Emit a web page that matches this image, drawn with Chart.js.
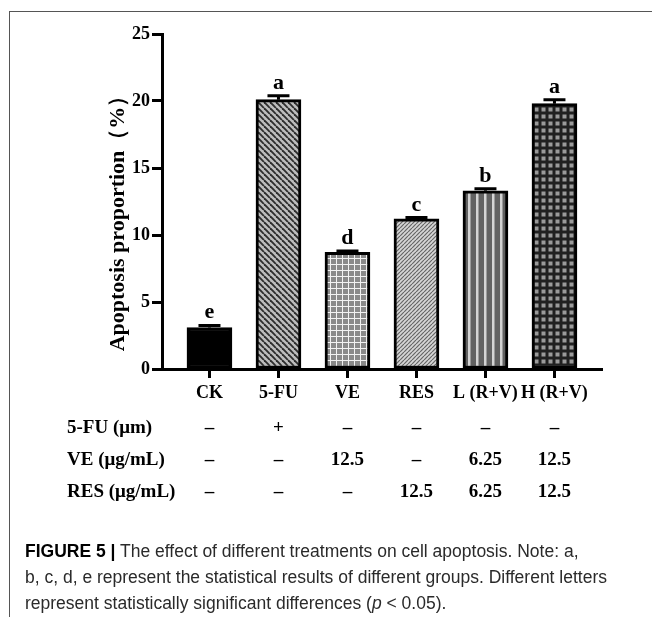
<!DOCTYPE html>
<html><head><meta charset="utf-8">
<script src="https://cdn.jsdelivr.net/npm/chart.js@4"></script>
<style>
html,body{margin:0;padding:0;background:#fff;}
#wrap{position:relative;width:652px;height:617px;overflow:hidden;background:#fff;}
#frame{position:absolute;left:9px;top:11px;right:-2px;bottom:-2px;border-top:1px solid #555;border-left:1px solid #555;}
canvas{position:absolute;left:0;top:0;}
.cell{position:absolute;font:bold 19px "Liberation Serif",serif;line-height:24px;white-space:nowrap;color:#000;}
#caption{position:absolute;left:25px;top:538px;font:17.5px "Liberation Sans",Arial,sans-serif;line-height:26px;color:#2a2a2a;white-space:nowrap;}
#caption b{font-weight:bold;color:#000;}
</style></head><body>
<div id="wrap">
<div id="frame"></div>
<canvas id="c" width="652" height="617"></canvas>
<div id="table"></div>
<div id="caption">
<div><b>FIGURE 5 |</b> The effect of different treatments on cell apoptosis. Note: a,</div>
<div>b, c, d, e represent the statistical results of different groups. Different letters</div>
<div>represent statistically significant differences (<i>p</i> &lt; 0.05).</div>
</div>
</div>
<script>
const categories = ['CK', '5-FU', 'VE', 'RES', 'L (R+V)', 'H (R+V)'];
const apoptosis = [3.1, 20.1, 8.7, 11.2, 13.3, 19.8];
const errors = [0.15, 0.3, 0.1, 0.1, 0.15, 0.3];
const groupLetters = ['e', 'a', 'd', 'c', 'b', 'a'];
const yTicks = [0, 5, 10, 15, 20, 25];
const yTitle = 'Apoptosis proportion（%）';
const tableRowLabels = ['5-FU (μm)', 'VE (μg/mL)', 'RES (μg/mL)'];
const row5FU = ['–', '+', '–', '–', '–', '–'];
const rowVE = ['–', '–', '12.5', '–', '6.25', '12.5'];
const rowRES = ['–', '–', '–', '12.5', '6.25', '12.5'];

const ctx = document.getElementById('c').getContext('2d');

function makePattern(w, h, draw) {
  const c = document.createElement('canvas');
  c.width = w; c.height = h;
  const g = c.getContext('2d');
  draw(g, w, h);
  return ctx.createPattern(c, 'repeat');
}
const patterns = [
  '#000000',
  makePattern(6, 6, (g, w, h) => {
    g.fillStyle = '#bdbdbd'; g.fillRect(0, 0, w, h);
    g.strokeStyle = '#2e2e2e'; g.lineWidth = 1.9;
    for (const k of [-6, 0, 6]) { g.beginPath(); g.moveTo(k, 0); g.lineTo(k + 6, 6); g.stroke(); }
  }),
  makePattern(6, 6, (g, w, h) => {
    g.fillStyle = '#8a8a8a'; g.fillRect(0, 0, w, h);
    g.fillStyle = '#f2f2f2'; g.fillRect(0, 0, w, 1); g.fillRect(0, 0, 1, h);
  }),
  makePattern(4, 4, (g, w, h) => {
    g.fillStyle = '#d6d6d6'; g.fillRect(0, 0, w, h);
    g.strokeStyle = '#666'; g.lineWidth = 1.2;
    for (const k of [-4, 0, 4]) { g.beginPath(); g.moveTo(k, 4); g.lineTo(k + 4, 0); g.stroke(); }
  }),
  makePattern(8, 2, (g, w, h) => {
    g.fillStyle = '#626262'; g.fillRect(0, 0, w, h);
    g.fillStyle = '#d4d4d4'; g.fillRect(4, 0, 2.5, h);
  }),
  makePattern(7, 7, (g, w, h) => {
    g.fillStyle = '#202020'; g.fillRect(0, 0, w, h);
    g.fillStyle = '#9a9a9a'; g.fillRect(2.5, 2.5, 4, 4);
  })
];

const annotate = {
  id: 'annotate',
  afterDatasetsDraw(chart) {
    const c = chart.ctx, xs = chart.scales.x, ys = chart.scales.y;
    c.save();
    c.strokeStyle = '#000'; c.lineWidth = 3; c.fillStyle = '#000';
    c.font = 'bold 22px "Liberation Serif", serif';
    c.textAlign = 'center'; c.textBaseline = 'alphabetic';
    apoptosis.forEach((v, i) => {
      const px = xs.getPixelForValue(i);
      const y0 = ys.getPixelForValue(v);
      const y1 = ys.getPixelForValue(v + errors[i]);
      c.beginPath();
      c.moveTo(px, y0); c.lineTo(px, y1);
      c.moveTo(px - 11, y1); c.lineTo(px + 11, y1);
      c.stroke();
      c.fillText(groupLetters[i], px, y1 - 7);
    });
    c.restore();
  }
};

const serifBold = (size) => ({ family: '"Liberation Serif", "Times New Roman", serif', weight: 'bold', size });

const chart = new Chart(ctx, {
  type: 'bar',
  data: {
    datasets: [{
      data: apoptosis.map((v, i) => ({ x: i, y: v })),
      backgroundColor: patterns,
      borderColor: '#000',
      borderWidth: 3,
      borderSkipped: false,
      barThickness: 45
    }]
  },
  options: {
    responsive: false,
    animation: false,
    events: [],
    layout: { padding: { left: 0, top: 34, right: 50, bottom: 208 } },
    plugins: { legend: { display: false }, tooltip: { enabled: false } },
    scales: {
      x: {
        type: 'linear',
        offset: false,
        min: -0.688,
        max: 5.689,
        afterBuildTicks: s => { s.ticks = categories.map((_, i) => ({ value: i })); },
        afterFit: s => { s.height = 40; },
        grid: { offset: false, drawOnChartArea: false, tickLength: 9, tickWidth: 3, tickColor: '#000' },
        border: { display: true, width: 3, color: '#000' },
        ticks: {
          autoSkip: false, maxRotation: 0, minRotation: 0, padding: 5, color: '#000',
          font: serifBold(18),
          callback: v => categories[v]
        }
      },
      y: {
        min: 0,
        max: 25,
        afterBuildTicks: s => { s.ticks = yTicks.map(v => ({ value: v })); },
        afterFit: s => { s.width = 162; },
        grid: { drawOnChartArea: false, tickLength: 10, tickWidth: 3, tickColor: '#000' },
        border: { display: true, width: 3, color: '#000' },
        ticks: { padding: 2, color: '#000', font: serifBold(18) },
        title: {
          display: true,
          text: yTitle + '\u2003\u2002',
          color: '#000',
          font: serifBold(22),
          padding: { top: 105, bottom: 0 }
        }
      }
    }
  },
  plugins: [annotate]
});

// treatment table aligned to the category positions of the x scale
const table = document.getElementById('table');
const xs = chart.scales.x;
[row5FU, rowVE, rowRES].forEach((row, r) => {
  const top = 415 + r * 32;
  const lab = document.createElement('div');
  lab.className = 'cell';
  lab.style.left = '67px';
  lab.style.top = top + 'px';
  lab.textContent = tableRowLabels[r];
  table.appendChild(lab);
  row.forEach((val, i) => {
    const d = document.createElement('div');
    d.className = 'cell';
    d.style.left = xs.getPixelForValue(i) + 'px';
    d.style.top = top + 'px';
    d.style.transform = 'translateX(-50%)';
    d.textContent = val;
    table.appendChild(d);
  });
});
</script>
</body></html>
